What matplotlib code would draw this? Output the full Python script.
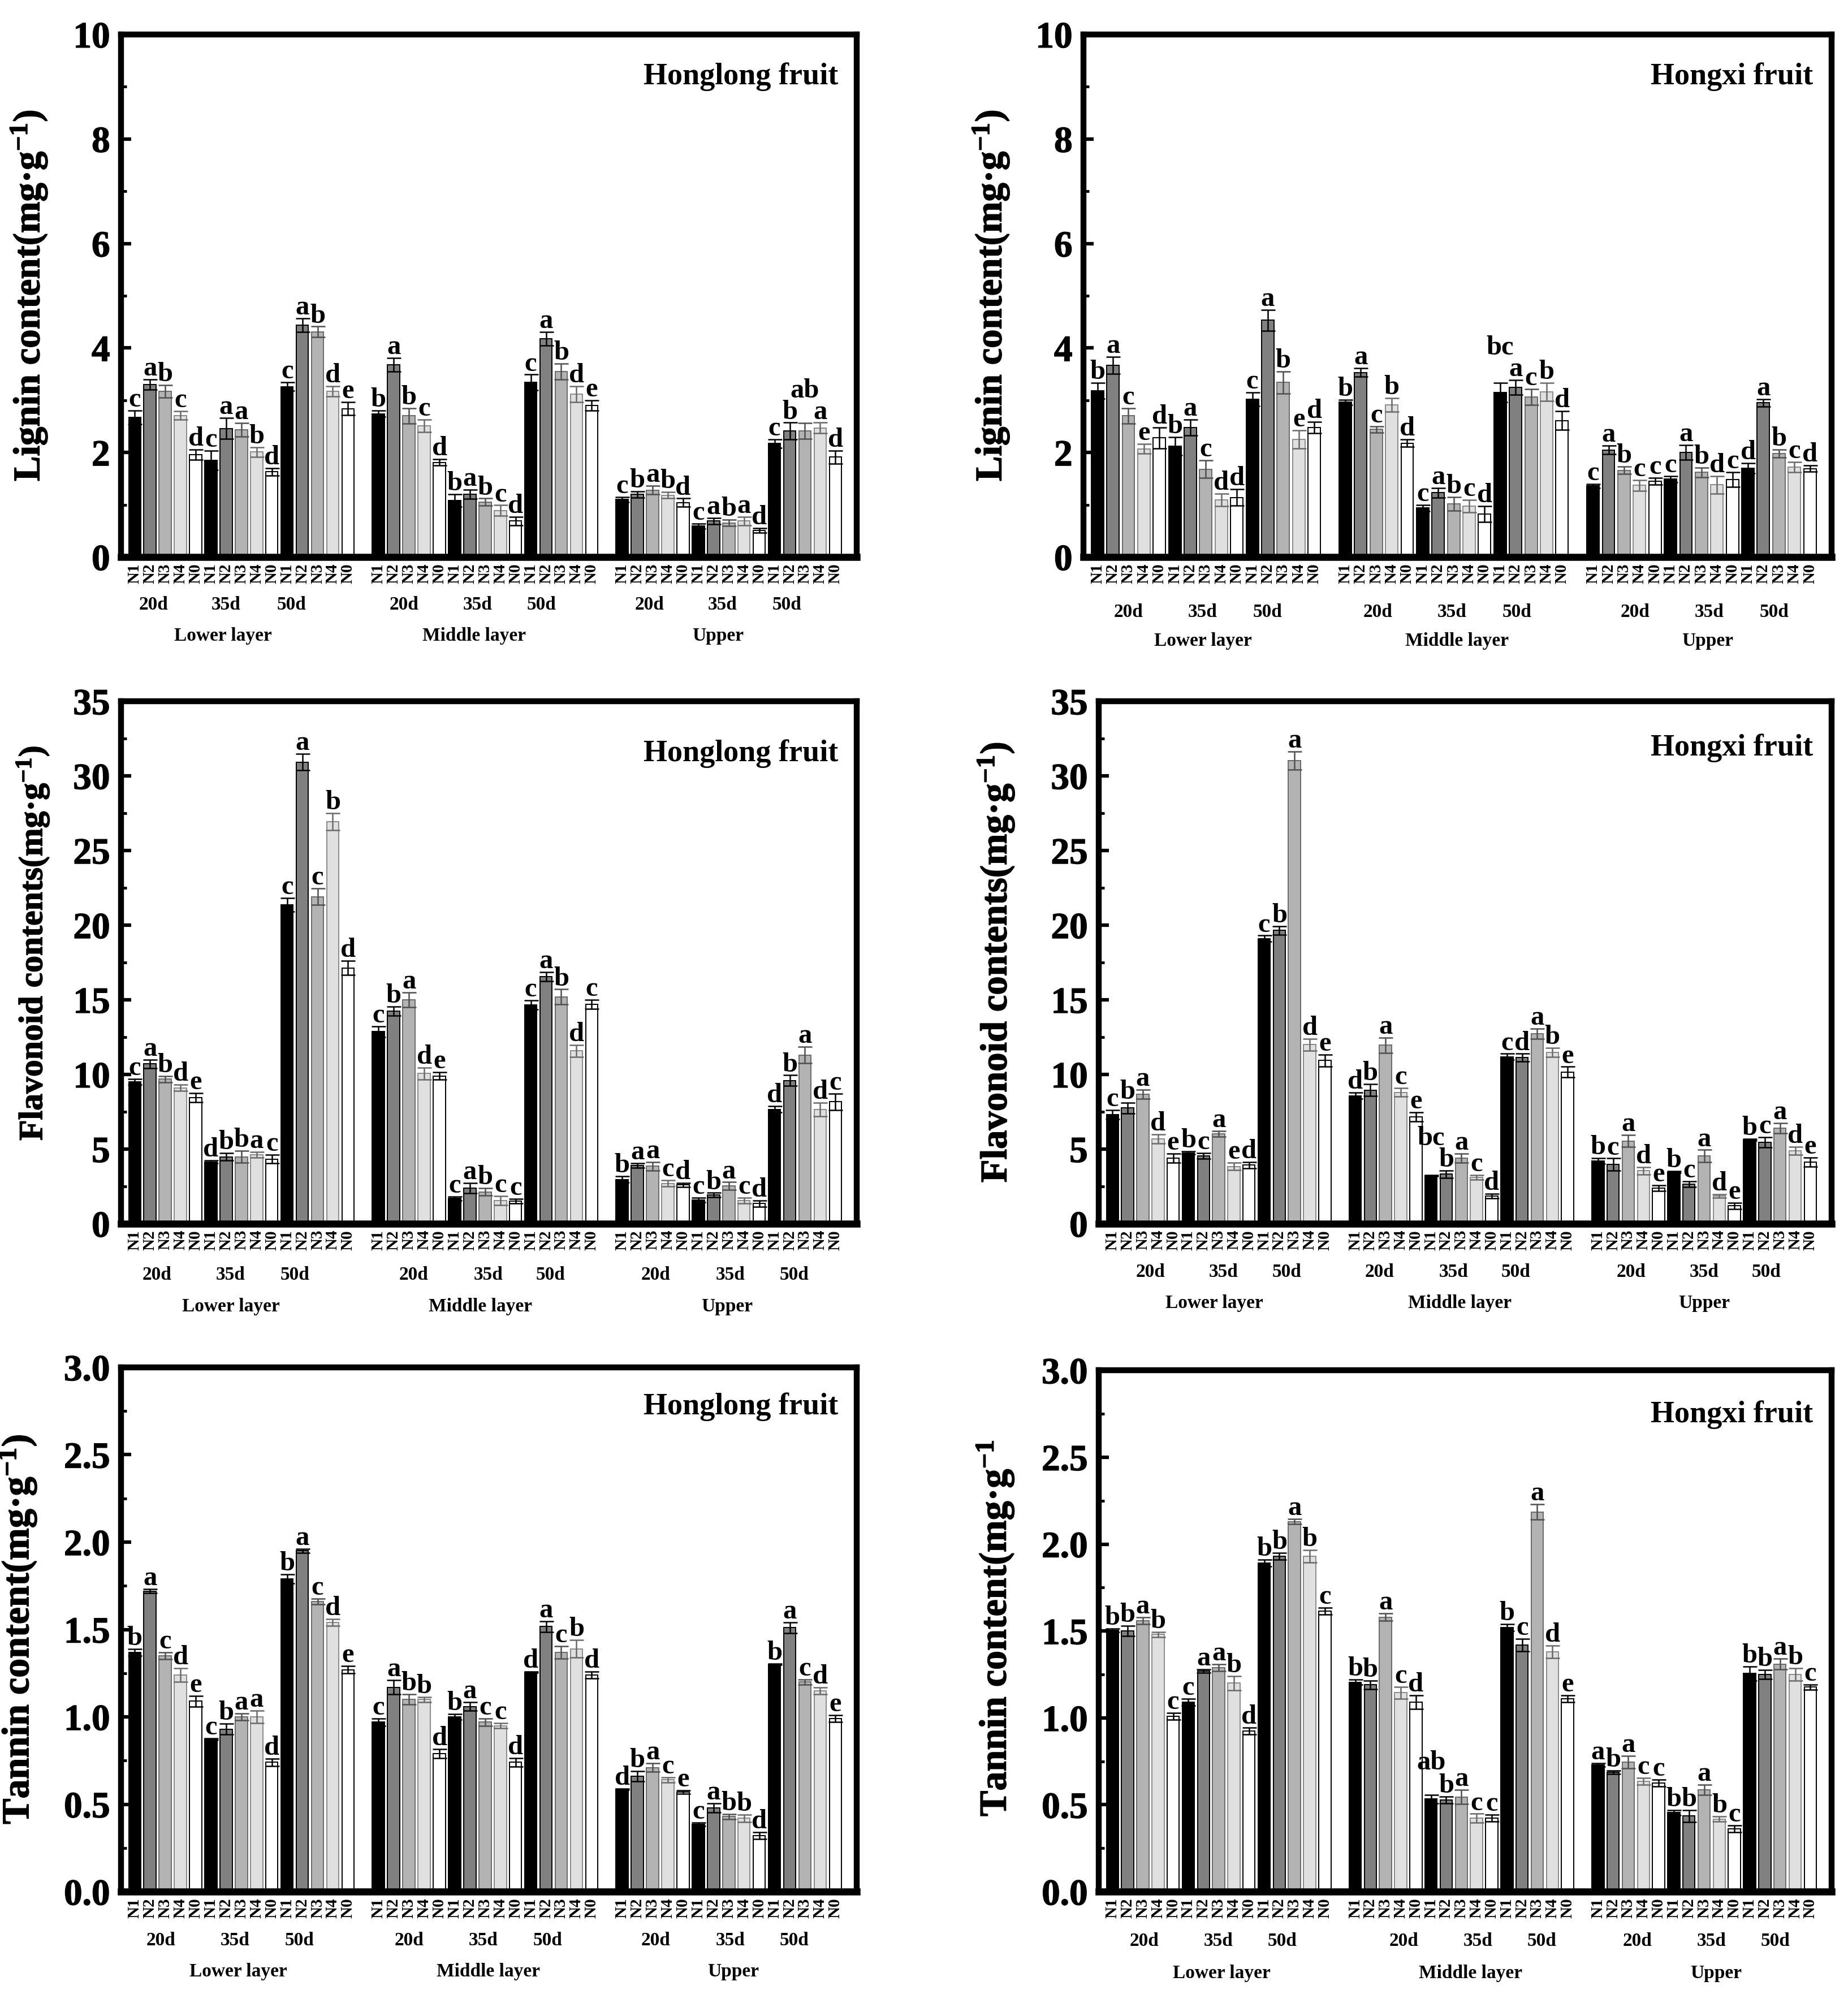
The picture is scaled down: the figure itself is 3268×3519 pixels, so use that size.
import numpy as np
import matplotlib
matplotlib.use("Agg")
import matplotlib.pyplot as plt
import matplotlib.patheffects as pe
from matplotlib.ticker import MultipleLocator, FormatStrFormatter
from matplotlib.transforms import blended_transform_factory

plt.rcParams['font.family'] = 'serif'
plt.rcParams['font.serif'] = ['Liberation Serif', 'Times New Roman', 'DejaVu Serif']
plt.rcParams['font.weight'] = 'bold'
plt.rcParams['mathtext.fontset'] = 'custom'
plt.rcParams['mathtext.rm'] = 'Liberation Serif:bold'
plt.rcParams['mathtext.bf'] = 'Liberation Serif:bold'
plt.rcParams['mathtext.default'] = 'rm'

#-----------------------------------------------------------------------------
# DATA  (rows: Lower 20/35/50d, Middle 20/35/50d, Upper 20/35/50d ; cols: N1 N2 N3 N4 N0)

treatments = ["N1", "N2", "N3", "N4", "N0"]
days = ["20d", "35d", "50d"]
layers = ["Lower layer", "Middle layer", "Upper"]

lignin_honglong = [
    [2.67, 3.30, 3.17, 2.71, 1.96],
    [1.85, 2.46, 2.43, 2.01, 1.63],
    [3.26, 4.44, 4.31, 3.17, 2.84],
    [2.74, 3.68, 2.70, 2.51, 1.81],
    [1.08, 1.20, 1.05, 0.89, 0.69],
    [3.34, 4.18, 3.55, 3.12, 2.90],
    [1.10, 1.20, 1.28, 1.18, 1.04],
    [0.59, 0.69, 0.65, 0.69, 0.51],
    [2.17, 2.41, 2.41, 2.47, 1.91],
]
lignin_honglong_err = [
    [0.13, 0.10, 0.12, 0.08, 0.10],
    [0.18, 0.20, 0.13, 0.09, 0.07],
    [0.08, 0.13, 0.10, 0.10, 0.12],
    [0.06, 0.13, 0.15, 0.12, 0.06],
    [0.12, 0.09, 0.07, 0.10, 0.08],
    [0.15, 0.13, 0.15, 0.15, 0.10],
    [0.05, 0.06, 0.08, 0.06, 0.08],
    [0.05, 0.06, 0.06, 0.08, 0.04],
    [0.08, 0.16, 0.15, 0.10, 0.12],
]
lignin_honglong_sig = ["c a b c d", "c a a b d", "c a b d e",
                       "b a b c d", "b a b c d", "c a b d e",
                       "c b a b d", "c a b a d", "c b ab a d"]

lignin_hongxi = [
    [3.18, 3.67, 2.70, 2.07, 2.28],
    [2.12, 2.48, 1.68, 1.09, 1.14],
    [3.02, 4.53, 3.34, 2.25, 2.48],
    [2.96, 3.53, 2.44, 2.91, 2.18],
    [0.94, 1.23, 1.02, 0.97, 0.82],
    [3.15, 3.25, 3.06, 3.16, 2.61],
    [1.36, 2.05, 1.66, 1.37, 1.45],
    [1.49, 2.00, 1.62, 1.38, 1.48],
    [1.70, 2.95, 1.98, 1.72, 1.69],
]
lignin_hongxi_err = [
    [0.15, 0.16, 0.15, 0.09, 0.20],
    [0.17, 0.15, 0.17, 0.12, 0.16],
    [0.13, 0.20, 0.21, 0.17, 0.11],
    [0.05, 0.08, 0.06, 0.13, 0.07],
    [0.06, 0.09, 0.13, 0.12, 0.15],
    [0.18, 0.14, 0.15, 0.17, 0.18],
    [0.04, 0.08, 0.07, 0.10, 0.06],
    [0.06, 0.14, 0.09, 0.17, 0.14],
    [0.10, 0.07, 0.08, 0.10, 0.06],
]
lignin_hongxi_sig = ["b a c e d", "b a c d d", "c a b e d",
                     "b a c b d", "c a b c d", "bc a c b d",
                     "c a b c c", "c a b d c", "d a b c d"]

flavonoid_honglong = [
    [9.50, 10.70, 9.68, 9.10, 8.45],
    [4.13, 4.47, 4.47, 4.61, 4.33],
    [21.37, 30.93, 21.90, 26.95, 17.13],
    [12.86, 14.23, 15.00, 10.07, 9.90],
    [1.68, 2.39, 2.13, 1.54, 1.51],
    [14.66, 16.56, 15.20, 11.58, 14.71],
    [2.96, 3.90, 3.84, 2.70, 2.59],
    [1.59, 1.91, 2.53, 1.54, 1.34],
    [7.66, 9.59, 11.30, 7.66, 8.17],
]
flavonoid_honglong_err = [
    [0.20, 0.30, 0.20, 0.20, 0.30],
    [0.10, 0.25, 0.40, 0.20, 0.30],
    [0.45, 0.55, 0.55, 0.57, 0.48],
    [0.35, 0.30, 0.50, 0.40, 0.25],
    [0.15, 0.35, 0.25, 0.30, 0.15],
    [0.30, 0.30, 0.50, 0.40, 0.30],
    [0.20, 0.15, 0.30, 0.20, 0.15],
    [0.15, 0.15, 0.25, 0.20, 0.20],
    [0.20, 0.35, 0.55, 0.45, 0.55],
]
flavonoid_honglong_sig = ["c a b d e", "d b b a c", "c a c b d",
                          "c b a d e", "c a b c c", "c a b d c",
                          "b a a c d", "c b a c d", "d b a d c"]

flavonoid_hongxi = [
    [7.30, 7.75, 8.66, 5.68, 4.40],
    [4.74, 4.54, 6.02, 3.83, 3.92],
    [19.10, 19.64, 31.02, 12.00, 10.93],
    [8.57, 8.94, 11.95, 8.80, 7.15],
    [3.21, 3.32, 4.40, 3.09, 1.85],
    [11.18, 11.13, 12.72, 11.47, 10.16],
    [4.20, 3.97, 5.53, 3.55, 2.38],
    [3.46, 2.64, 4.54, 1.85, 1.19],
    [5.62, 5.45, 6.39, 4.88, 4.12],
]
flavonoid_hongxi_err = [
    [0.30, 0.35, 0.30, 0.30, 0.30],
    [0.10, 0.20, 0.20, 0.25, 0.20],
    [0.20, 0.30, 0.60, 0.40, 0.40],
    [0.20, 0.40, 0.50, 0.30, 0.30],
    [0.05, 0.25, 0.30, 0.15, 0.15],
    [0.20, 0.25, 0.35, 0.30, 0.35],
    [0.20, 0.40, 0.40, 0.25, 0.20],
    [0.05, 0.20, 0.40, 0.10, 0.20],
    [0.05, 0.35, 0.35, 0.25, 0.30],
]
flavonoid_hongxi_sig = ["c b a d e", "b c a e d", "c b a d e",
                        "d b a c e", "bc b a c d", "c d a b e",
                        "b c a d e", "b c a d e", "b c a d e"]

tannin_honglong = [
    [1.37, 1.72, 1.35, 1.24, 1.09],
    [0.873, 0.93, 1.00, 1.00, 0.74],
    [1.79, 1.95, 1.66, 1.54, 1.27],
    [0.97, 1.17, 1.10, 1.10, 0.79],
    [1.00, 1.06, 0.97, 0.95, 0.74],
    [1.256, 1.517, 1.37, 1.39, 1.24],
    [0.585, 0.66, 0.71, 0.64, 0.57],
    [0.385, 0.48, 0.43, 0.42, 0.32],
    [1.30, 1.51, 1.20, 1.15, 0.99],
]
tannin_honglong_err = [
    [0.02, 0.01, 0.02, 0.04, 0.03],
    [0.005, 0.03, 0.02, 0.035, 0.02],
    [0.025, 0.01, 0.015, 0.02, 0.02],
    [0.02, 0.04, 0.03, 0.015, 0.025],
    [0.015, 0.025, 0.02, 0.015, 0.025],
    [0.003, 0.03, 0.035, 0.05, 0.02],
    [0.003, 0.03, 0.025, 0.015, 0.01],
    [0.01, 0.025, 0.015, 0.02, 0.02],
    [0.003, 0.03, 0.015, 0.02, 0.02],
]
tannin_honglong_sig = ["b a c d e", "c b a a d", "b a c d e",
                       "c a b b d", "b a c c d", "d a c b d",
                       "d b a c e", "c a b b d", "b a c d e"]

tannin_hongxi = [
    [1.505, 1.50, 1.56, 1.48, 1.01],
    [1.09, 1.27, 1.29, 1.20, 0.925],
    [1.89, 1.93, 2.13, 1.93, 1.615],
    [1.206, 1.19, 1.58, 1.145, 1.09],
    [0.533, 0.528, 0.545, 0.423, 0.423],
    [1.52, 1.42, 2.185, 1.38, 1.11],
    [0.73, 0.687, 0.746, 0.636, 0.626],
    [0.455, 0.435, 0.587, 0.418, 0.362],
    [1.255, 1.25, 1.31, 1.25, 1.177],
]
tannin_hongxi_err = [
    [0.01, 0.03, 0.02, 0.015, 0.02],
    [0.02, 0.01, 0.02, 0.04, 0.02],
    [0.02, 0.02, 0.015, 0.035, 0.02],
    [0.015, 0.025, 0.02, 0.035, 0.04],
    [0.025, 0.02, 0.04, 0.025, 0.02],
    [0.02, 0.035, 0.045, 0.035, 0.02],
    [0.01, 0.01, 0.035, 0.02, 0.02],
    [0.015, 0.035, 0.03, 0.015, 0.02],
    [0.04, 0.025, 0.03, 0.035, 0.015],
]
tannin_hongxi_sig = ["b b a b c", "c a a b d", "b b a b c",
                     "b b a c d", "ab b a c c", "b c a d e",
                     "a b a c c", "b b a b c", "b b a b c"]

#-----------------------------------------------------------------------------
# STYLE

fills = ["#000000", "#808080", "#b3b3b3", "#e0e0e0", "#ffffff"]
edges = ["#000000", "#000000", "#6a6a6a", "#8a8a8a", "#000000"]
ecols = ["#000000", "#000000", "#505050", "#6a6a6a", "#000000"]

heavy = [pe.withStroke(linewidth=1.0, foreground='black')]


def draw_panel(ax, vals, errs, sig, ymax, ystep, yfmt, ylabel, title,
               ylab_xy, title_y, day_x, layer_x, day_y, layer_y, ylab_size):
    vals = np.array(vals)
    errs = np.array(errs)
    tops = vals + errs
    # bar slots: 15 per layer, one empty slot between layers
    pos = np.array([l * 16 + d * 5 for l in range(3) for d in range(3)])

    for t in range(5):
        xs = pos + t
        ax.bar(xs, vals[:, t], width=0.8, color=fills[t], edgecolor=edges[t],
               linewidth=1.4, zorder=2)
        ax.errorbar(xs, vals[:, t], yerr=errs[:, t], fmt='none', ecolor=ecols[t],
                    elinewidth=1.8, capsize=9, capthick=1.8, zorder=3)

    # significance letters; two-letter marks sit above their neighbours
    for g in range(9):
        for t, s in enumerate(sig[g].split()):
            if len(s) == 1:
                base, lift = tops[g, t], 5
            else:
                base, lift = tops[g, max(t - 1, 0):t + 2].max(), 32
            ax.annotate(s, (pos[g] + t, base),
                        xytext=(0, lift), textcoords='offset points',
                        ha='center', va='baseline', fontsize=35,
                        fontweight='bold', zorder=4)

    ax.set_xlim(-0.9, 47.4)
    ax.set_ylim(0, ymax)
    ax.set_yticks(np.arange(0, ymax + ystep / 2, ystep))
    ax.yaxis.set_major_formatter(FormatStrFormatter(yfmt))
    ax.yaxis.set_minor_locator(MultipleLocator(ystep / 2))
    ax.tick_params(axis='y', which='major', direction='in', length=13, width=4.5,
                   labelsize=47, pad=14, right=False)
    ax.tick_params(axis='y', which='minor', direction='in', length=7, width=3.5,
                   right=False)
    for lab in ax.get_yticklabels():
        lab.set_path_effects(heavy)

    allx = np.concatenate([pos + t for t in range(5)])
    order = np.argsort(allx)
    labs = [treatments[t] for t in range(5) for _ in range(9)]
    ax.set_xticks(allx[order])
    ax.set_xticklabels([labs[i] for i in order], rotation=90, fontsize=21,
                       fontweight='bold')
    ax.tick_params(axis='x', length=0, pad=8)

    for sp in ax.spines.values():
        sp.set_linewidth(7.5)
    ax.spines['bottom'].set_linewidth(9)

    yl = ax.set_ylabel(ylabel, fontsize=ylab_size, fontweight='bold')
    yl.set_path_effects(heavy)
    ax.yaxis.set_label_coords(*ylab_xy)

    ax.text(0.975, title_y, title, transform=ax.transAxes, ha='right',
            va='baseline', fontsize=39, fontweight='bold')

    trans = blended_transform_factory(ax.transData, ax.transAxes)
    for i, x in enumerate(day_x):
        ax.text(x, -day_y, days[i % 3], transform=trans, ha='center',
                va='center', fontsize=24, fontweight='bold')
    for i, x in enumerate(layer_x):
        ax.text(x, -layer_y, layers[i], transform=trans, ha='center',
                va='center', fontsize=24, fontweight='bold')


#-----------------------------------------------------------------------------
# FIGURE

fig = plt.figure(figsize=(32.68, 35.19), dpi=100)

ax1 = fig.add_axes([0.0655, 0.7201, 0.3981, 0.2626])
ax2 = fig.add_axes([0.5863, 0.7201, 0.4048, 0.2626])
ax3 = fig.add_axes([0.0655, 0.3851, 0.3981, 0.2625])
ax4 = fig.add_axes([0.5946, 0.3851, 0.3965, 0.2625])
ax5 = fig.add_axes([0.0655, 0.0494, 0.3981, 0.2635])
ax6 = fig.add_axes([0.5946, 0.0494, 0.3965, 0.2620])

draw_panel(ax1, lignin_honglong, lignin_honglong_err, lignin_honglong_sig,
           10, 2, '%d', r'Lignin content(mg·g$^{-1}$)', 'Honglong fruit',
           (-0.098, 0.5), 0.905,
           [1.25, 6.0, 10.3, 17.7, 22.5, 26.7, 33.8, 38.6, 42.8],
           [5.8, 22.3, 38.3], 0.091, 0.151, 48)

draw_panel(ax2, lignin_hongxi, lignin_hongxi_err, lignin_hongxi_sig,
           10, 2, '%d', r'Lignin content(mg·g$^{-1}$)', 'Hongxi fruit',
           (-0.097, 0.5), 0.905,
           [2.0, 6.8, 11.0, 18.1, 22.9, 27.1, 34.7, 39.5, 43.7],
           [6.8, 23.2, 39.4], 0.106, 0.161, 48)

draw_panel(ax3, flavonoid_honglong, flavonoid_honglong_err, flavonoid_honglong_sig,
           35, 5, '%d', r'Flavonoid contents(mg·g$^{-1}$)', 'Honglong fruit',
           (-0.095, 0.537), 0.885,
           [1.44, 6.3, 10.5, 18.3, 23.2, 27.3, 34.2, 39.1, 43.3],
           [6.3, 22.7, 38.9], 0.098, 0.159, 43)

draw_panel(ax4, flavonoid_hongxi, flavonoid_hongxi_err, flavonoid_hongxi_sig,
           35, 5, '%d', r'Flavonoid contents(mg·g$^{-1}$)', 'Hongxi fruit',
           (-0.113, 0.5), 0.896,
           [2.5, 7.3, 11.5, 17.6, 22.5, 26.6, 34.2, 39.0, 43.1],
           [6.7, 22.9, 39.0], 0.093, 0.152, 48)

draw_panel(ax5, tannin_honglong, tannin_honglong_err, tannin_honglong_sig,
           3.0, 0.5, '%.1f', r'Tannin content(mg·g$^{-1}$)', 'Honglong fruit',
           (-0.112, 0.5), 0.91,
           [1.7, 6.6, 10.8, 18.0, 22.9, 27.1, 34.2, 39.1, 43.3],
           [6.8, 23.2, 39.3], 0.093, 0.152, 49)

draw_panel(ax6, tannin_hongxi, tannin_hongxi_err, tannin_hongxi_sig,
           3.0, 0.5, '%.1f', r'Tannin content(mg·g$^{-1}$', 'Hongxi fruit',
           (-0.113, 0.505), 0.90,
           [2.1, 7.0, 11.2, 19.2, 24.1, 28.3, 34.6, 39.5, 43.7],
           [7.2, 23.6, 39.8], 0.095, 0.157, 49)

fig.savefig("out.png", dpi=100, facecolor='white')
